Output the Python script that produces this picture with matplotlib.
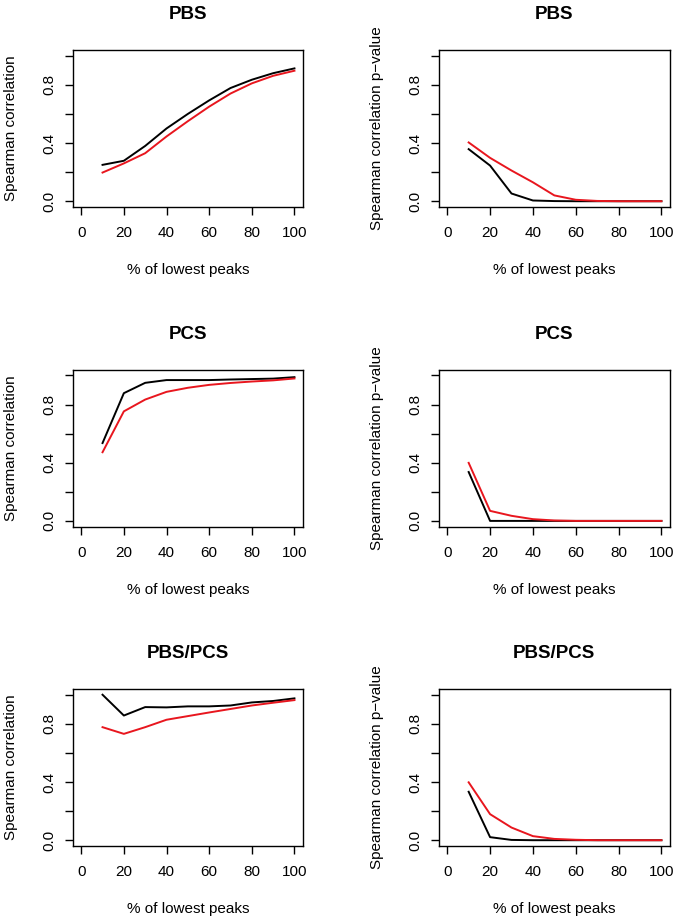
import matplotlib.pyplot as plt

plt.rcParams["font.family"] = ["Liberation Sans", "DejaVu Sans"]

# % of lowest peaks
pct = [10, 20, 30, 40, 50, 60, 70, 80, 90, 100]

# PBS
pbs_cor_black = [0.25, 0.278, 0.38, 0.50, 0.60, 0.693, 0.778, 0.835, 0.88, 0.913]
pbs_cor_red = [0.197, 0.26, 0.33, 0.445, 0.55, 0.65, 0.74, 0.81, 0.862, 0.897]
pbs_p_black = [0.358, 0.245, 0.053, 0.005, 0.001, 0.0, 0.0, 0.0, 0.0, 0.0]
pbs_p_red = [0.404, 0.298, 0.211, 0.13, 0.04, 0.01, 0.002, 0.0, 0.0, 0.0]

# PCS
pcs_cor_black = [0.535, 0.878, 0.949, 0.968, 0.968, 0.968, 0.972, 0.975, 0.978, 0.988]
pcs_cor_red = [0.472, 0.753, 0.834, 0.887, 0.915, 0.935, 0.948, 0.958, 0.966, 0.979]
pcs_p_black = [0.336, 0.0, 0.0, 0.0, 0.0, 0.0, 0.0, 0.0, 0.0, 0.0]
pcs_p_red = [0.399, 0.069, 0.035, 0.012, 0.003, 0.0, 0.0, 0.0, 0.0, 0.0]

# PBS/PCS
both_cor_black = [1.0, 0.857, 0.915, 0.913, 0.92, 0.92, 0.926, 0.947, 0.957, 0.975]
both_cor_red = [0.777, 0.731, 0.777, 0.828, 0.853, 0.878, 0.902, 0.926, 0.945, 0.963]
both_p_black = [0.333, 0.021, 0.002, 0.0, 0.0, 0.0, 0.0, 0.0, 0.0, 0.0]
both_p_red = [0.398, 0.179, 0.087, 0.028, 0.009, 0.003, 0.0, 0.0, 0.0, 0.0]

titles = ["PBS", "PCS", "PBS/PCS"]
cor_data = [(pbs_cor_black, pbs_cor_red), (pcs_cor_black, pcs_cor_red), (both_cor_black, both_cor_red)]
p_data = [(pbs_p_black, pbs_p_red), (pcs_p_black, pcs_p_red), (both_p_black, both_p_red)]

fig = plt.figure(figsize=(6.85, 9.21), dpi=100)

lefts = [0.1061, 0.6404]
widths = [0.3362, 0.3377]
bottoms = [0.7752, 0.4281, 0.0814]
height = 0.1706


def draw_panel(ax, title, black, red, ylabel):
    ax.plot(pct, black, color="black", lw=1.4)
    ax.plot(pct, red, color="#e8161e", lw=1.4)
    ax.set_xlim(-4, 104)
    ax.set_ylim(-0.04, 1.04)
    ax.set_xticks([0, 20, 40, 60, 80, 100])
    ax.set_yticks([0, 0.2, 0.4, 0.6, 0.8, 1.0])
    ax.set_yticklabels(["0.0", "", "0.4", "", "0.8", ""], rotation=90, va="center")
    ax.tick_params(direction="out", length=6, width=1, labelsize=11)
    ax.tick_params(axis="x", pad=8)
    ax.tick_params(axis="y", pad=6)
    for s in ax.spines.values():
        s.set_linewidth(1)
    t = ax.set_title(title, fontsize=13.5, fontweight="bold", y=1.225, pad=0)
    t.set_va("center")
    ax.set_xlabel("% of lowest peaks", fontsize=11)
    ax.xaxis.set_label_coords(0.5, -0.40)
    ax.xaxis.label.set_va("center")
    ax.set_ylabel(ylabel, fontsize=11)
    ax.yaxis.set_label_coords(-0.268, 0.5)
    ax.yaxis.label.set_va("center")


for row in range(3):
    ax = fig.add_axes([lefts[0], bottoms[row], widths[0], height])
    draw_panel(ax, titles[row], cor_data[row][0], cor_data[row][1], "Spearman correlation")
    ax = fig.add_axes([lefts[1], bottoms[row], widths[1], height])
    draw_panel(ax, titles[row], p_data[row][0], p_data[row][1], "Spearman correlation p\u2212value")

fig.savefig("out.png", dpi=100)
